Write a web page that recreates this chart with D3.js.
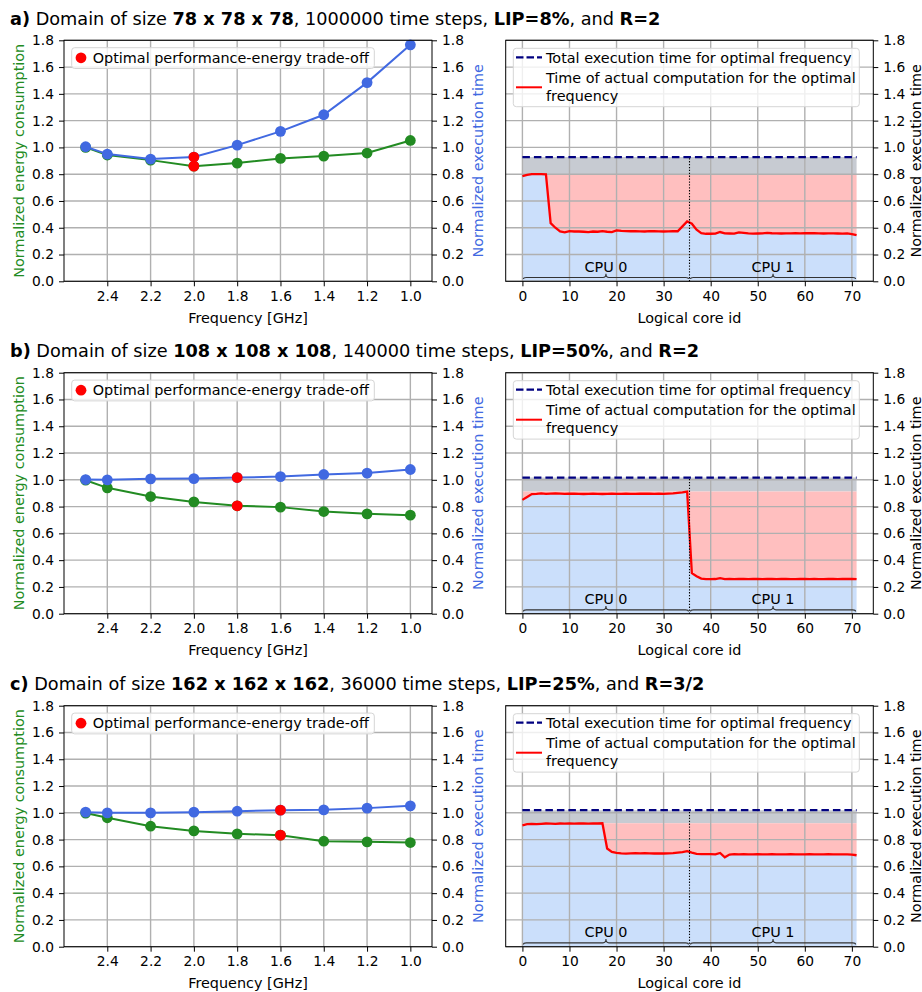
<!DOCTYPE html>
<html>
<head>
<meta charset="utf-8">
<script src="https://cdn.jsdelivr.net/npm/d3@7"></script>
<style>
  body { margin: 0; background: #fff; }
  svg { font-family: "DejaVu Sans", sans-serif; }
</style>
</head>
<body>
<svg class="chart" width="922" height="992"></svg>
<script>
// ---------------- data ----------------
const freqs = [2.5, 2.4, 2.2, 2.0, 1.8, 1.6, 1.4, 1.2, 1.0]
const freqTicks = [2.4, 2.2, 2.0, 1.8, 1.6, 1.4, 1.2, 1.0]
const coreTicks = [0, 10, 20, 30, 40, 50, 60, 70]
const yTicks = [0, 0.2, 0.4, 0.6, 0.8, 1.0, 1.2, 1.4, 1.6, 1.8]
const cpuGroups = [["CPU 0", 0, 35.5], ["CPU 1", 35.5, 71]]

// a) 78^3
const energyA = [1.0, 0.943, 0.905, 0.86, 0.883, 0.918, 0.935, 0.958, 1.052]
const timeA   = [1.005, 0.95, 0.913, 0.928, 1.017, 1.12, 1.244, 1.484, 1.766]
const optA = 3
const computeA = [0.785, 0.795, 0.8, 0.8, 0.8, 0.798, 0.434, 0.4, 0.372, 0.366,
  0.375, 0.372, 0.372, 0.37, 0.368, 0.372, 0.37, 0.375, 0.37, 0.368,
  0.38, 0.376, 0.375, 0.374, 0.375, 0.373, 0.372, 0.374, 0.375, 0.373,
  0.372, 0.373, 0.374, 0.374, 0.41, 0.447, 0.43, 0.385, 0.359, 0.355,
  0.355, 0.356, 0.368, 0.358, 0.357, 0.356, 0.366, 0.362, 0.358, 0.356,
  0.357, 0.358, 0.361, 0.359, 0.358, 0.357, 0.358, 0.358, 0.359, 0.358,
  0.359, 0.36, 0.359, 0.358, 0.357, 0.358, 0.358, 0.357, 0.356, 0.358,
  0.352, 0.345]

// b) 108^3
const energyB = [0.997, 0.94, 0.875, 0.835, 0.806, 0.796, 0.763, 0.746, 0.736]
const timeB   = [1.002, 1.0, 1.007, 1.009, 1.017, 1.024, 1.04, 1.05, 1.077]
const optB = 4
const computeB = [0.85, 0.872, 0.893, 0.895, 0.898, 0.895, 0.897, 0.899, 0.897, 0.895,
  0.896, 0.897, 0.895, 0.894, 0.895, 0.896, 0.895, 0.894, 0.895, 0.896,
  0.895, 0.895, 0.896, 0.895, 0.895, 0.896, 0.897, 0.896, 0.895, 0.896,
  0.895, 0.897, 0.899, 0.903, 0.906, 0.912, 0.303, 0.28, 0.262, 0.258,
  0.258, 0.259, 0.266, 0.258, 0.259, 0.258, 0.259, 0.259, 0.258, 0.259,
  0.259, 0.258, 0.259, 0.259, 0.258, 0.259, 0.259, 0.258, 0.258, 0.259,
  0.259, 0.258, 0.259, 0.258, 0.258, 0.259, 0.259, 0.258, 0.259, 0.259,
  0.26, 0.258]

// c) 162^3
const energyC = [0.998, 0.963, 0.9, 0.865, 0.843, 0.833, 0.788, 0.783, 0.778]
const timeC   = [1.005, 1.0, 1.0, 1.005, 1.012, 1.02, 1.022, 1.035, 1.052]
const optC = 5
const computeC = [0.907, 0.915, 0.917, 0.915, 0.918, 0.92, 0.919, 0.918, 0.92, 0.919,
  0.92, 0.919, 0.92, 0.92, 0.919, 0.92, 0.92, 0.922, 0.733, 0.708,
  0.7, 0.697, 0.695, 0.697, 0.698, 0.697, 0.698, 0.697, 0.696, 0.696,
  0.696, 0.697, 0.699, 0.703, 0.707, 0.713, 0.703, 0.694, 0.692, 0.691,
  0.691, 0.69, 0.7, 0.668, 0.688, 0.692, 0.69, 0.691, 0.69, 0.69,
  0.691, 0.69, 0.69, 0.691, 0.69, 0.69, 0.69, 0.691, 0.69, 0.69,
  0.69, 0.691, 0.69, 0.69, 0.69, 0.691, 0.69, 0.69, 0.69, 0.689,
  0.688, 0.683]

const titleA = [["a)", true], [" Domain of size ", false], ["78 x 78 x 78", true],
  [", 1000000 time steps, ", false], ["LIP=8%", true], [", and ", false], ["R=2", true]]
const titleB = [["b)", true], [" Domain of size ", false], ["108 x 108 x 108", true],
  [", 140000 time steps, ", false], ["LIP=50%", true], [", and ", false], ["R=2", true]]
const titleC = [["c)", true], [" Domain of size ", false], ["162 x 162 x 162", true],
  [", 36000 time steps, ", false], ["LIP=25%", true], [", and ", false], ["R=3/2", true]]

// ---------------- layout ----------------
const svg = d3.select('svg.chart')
const rowTops = [40.3, 372.7, 705.7]
const ph = 241
const left = { x0: 64, x1: 432 }
const right = { x0: 505.7, x1: 873.3 }
const fs = 14.4      // labels, legends
const tfs = 13.8     // tick labels

const green = '#228b22'
const blue = '#4169e1'
const gridColor = '#b0b0b0'

function styleAxis(g) {
  g.select('.domain').remove()
  g.selectAll('text').attr('font-size', tfs).attr('font-family', '"DejaVu Sans", sans-serif').attr('fill', '#000')
  g.selectAll('line').attr('stroke', '#000').attr('stroke-width', 1)
}

function drawRow(top, title, energy, time, opt, compute) {
  const bottom = top + ph
  const y = d3.scaleLinear().domain([0, 1.8]).range([bottom, top])

  // title
  const t = svg.append('text').attr('x', 10).attr('y', top - 15.3).attr('font-size', 17.7)
  title.forEach(p => t.append('tspan').attr('font-weight', p[1] ? 'bold' : 'normal').text(p[0]))

  //-------- left: energy / time vs frequency --------
  const xF = d3.scaleLinear().domain([2.6, 0.9]).range([left.x0, left.x1])
  const gl = svg.append('g')

  gl.selectAll('line.vg').data(freqTicks).join('line')
    .attr('x1', d => xF(d)).attr('x2', d => xF(d)).attr('y1', top).attr('y2', bottom)
    .attr('stroke', gridColor).attr('stroke-width', 1.4)
  gl.selectAll('line.hg').data(yTicks).join('line')
    .attr('x1', left.x0).attr('x2', left.x1).attr('y1', d => y(d)).attr('y2', d => y(d))
    .attr('stroke', gridColor).attr('stroke-width', 1.4)

  const series = [[energy, green], [time, blue]]
  series.forEach(([vals, col]) => {
    const pts = freqs.map((f, i) => [f, vals[i]])
    gl.append('path').datum(pts)
      .attr('d', d3.line().x(d => xF(d[0])).y(d => y(d[1])))
      .attr('fill', 'none').attr('stroke', col).attr('stroke-width', 2)
    gl.selectAll(null).data(pts).join('circle')
      .attr('cx', d => xF(d[0])).attr('cy', d => y(d[1])).attr('r', 5.4)
      .attr('fill', col)
  })
  gl.selectAll(null).data([energy[opt], time[opt]]).join('circle')
    .attr('cx', xF(freqs[opt])).attr('cy', d => y(d)).attr('r', 5.4).attr('fill', '#ff0000')

  gl.append('rect').attr('x', left.x0).attr('y', top).attr('width', left.x1 - left.x0).attr('height', ph)
    .attr('fill', 'none').attr('stroke', '#000').attr('stroke-width', 1)

  gl.append('g').attr('transform', `translate(0,${bottom})`)
    .call(d3.axisBottom(xF).tickValues(freqTicks).tickFormat(d3.format('.1f')).tickSize(5).tickPadding(5))
    .call(styleAxis)
  gl.append('g').attr('transform', `translate(${left.x0},0)`)
    .call(d3.axisLeft(y).tickValues(yTicks).tickFormat(d3.format('.1f')).tickSize(5).tickPadding(5))
    .call(styleAxis)
  gl.append('g').attr('transform', `translate(${left.x1},0)`)
    .call(d3.axisRight(y).tickValues(yTicks).tickFormat(d3.format('.1f')).tickSize(5).tickPadding(5))
    .call(styleAxis)

  gl.append('text').attr('x', (left.x0 + left.x1) / 2).attr('y', bottom + 41.5).attr('text-anchor', 'middle')
    .attr('font-size', fs).text('Frequency [GHz]')
  gl.append('text').attr('transform', `translate(19,${(top + bottom) / 2}) rotate(-90)`)
    .attr('dy', '0.35em').attr('text-anchor', 'middle').attr('font-size', fs).attr('fill', green)
    .text('Normalized energy consumption')
  gl.append('text').attr('transform', `translate(478,${(top + bottom) / 2}) rotate(-90)`)
    .attr('dy', '0.35em').attr('text-anchor', 'middle').attr('font-size', fs).attr('fill', blue)
    .text('Normalized execution time')

  // legend
  gl.append('rect').attr('x', 71.7).attr('y', top + 7.4).attr('width', 302.6).attr('height', 20.8).attr('rx', 3)
    .attr('fill', '#fff').attr('fill-opacity', 0.8).attr('stroke', '#d5d5d5')
  gl.append('circle').attr('cx', 81).attr('cy', top + 17.5).attr('r', 5.4).attr('fill', '#ff0000')
  gl.append('text').attr('x', 92.7).attr('y', top + 22.6).attr('font-size', fs).text('Optimal performance-energy trade-off')

  //-------- right: per-core times --------
  const xC = d3.scaleLinear().domain([-3.55, 74.55]).range([right.x0, right.x1])
  const gr = svg.append('g')
  const total = time[opt]
  const peak = d3.max(compute)
  const pts = compute.map((v, i) => [i, v])

  gr.append('path').datum(pts)
    .attr('d', d3.area().x(d => xC(d[0])).y0(y(peak)).y1(y(total)))
    .attr('fill', '#c7cbd2')
  gr.append('path').datum(pts)
    .attr('d', d3.area().x(d => xC(d[0])).y0(d => y(d[1])).y1(y(peak)))
    .attr('fill', '#ffbfbf')
  gr.append('path').datum(pts)
    .attr('d', d3.area().x(d => xC(d[0])).y0(y(0)).y1(d => y(d[1])))
    .attr('fill', '#cbdffb')

  gr.selectAll('line.vg').data(coreTicks).join('line')
    .attr('x1', d => xC(d)).attr('x2', d => xC(d)).attr('y1', top).attr('y2', bottom)
    .attr('stroke', gridColor).attr('stroke-width', 1.4)
  gr.selectAll('line.hg').data(yTicks).join('line')
    .attr('x1', right.x0).attr('x2', right.x1).attr('y1', d => y(d)).attr('y2', d => y(d))
    .attr('stroke', gridColor).attr('stroke-width', 1.4)

  gr.append('path').datum(pts)
    .attr('d', d3.line().x(d => xC(d[0])).y(d => y(d[1])))
    .attr('fill', 'none').attr('stroke', '#ff0000').attr('stroke-width', 2.3)
  gr.append('line').attr('x1', xC(0)).attr('x2', xC(71)).attr('y1', y(total)).attr('y2', y(total))
    .attr('stroke', '#000080').attr('stroke-width', 2.2).attr('stroke-dasharray', '7.5,4')
  gr.append('line').attr('x1', xC(35.5)).attr('x2', xC(35.5)).attr('y1', y(0)).attr('y2', y(total))
    .attr('stroke', '#000').attr('stroke-width', 1.1).attr('stroke-dasharray', '1.3,1.6')

  // CPU braces
  cpuGroups.forEach(([name, a, b]) => {
    const x0 = xC(a) + 1, x1 = xC(b) - 1, xm = (xC(a) + xC(b)) / 2
    const yEnd = bottom - 2.2, yLine = bottom - 3.8, yTip = bottom - 7.6
    const p = `M${x0},${yEnd} Q${x0},${yLine} ${x0 + 3},${yLine} L${xm - 3},${yLine} Q${xm},${yLine} ${xm},${yTip}` +
      ` Q${xm},${yLine} ${xm + 3},${yLine} L${x1 - 3},${yLine} Q${x1},${yLine} ${x1},${yEnd}`
    gr.append('path').attr('d', p).attr('fill', 'none').attr('stroke', '#333').attr('stroke-width', 1.1)
    gr.append('text').attr('x', xm).attr('y', bottom - 9.5).attr('text-anchor', 'middle')
      .attr('font-size', fs).text(name)
  })

  gr.append('rect').attr('x', right.x0).attr('y', top).attr('width', right.x1 - right.x0).attr('height', ph)
    .attr('fill', 'none').attr('stroke', '#000').attr('stroke-width', 1)

  gr.append('g').attr('transform', `translate(0,${bottom})`)
    .call(d3.axisBottom(xC).tickValues(coreTicks).tickFormat(d3.format('d')).tickSize(5).tickPadding(5))
    .call(styleAxis)
  gr.append('g').attr('transform', `translate(${right.x1},0)`)
    .call(d3.axisRight(y).tickValues(yTicks).tickFormat(d3.format('.1f')).tickSize(5).tickPadding(5))
    .call(styleAxis)

  gr.append('text').attr('x', (right.x0 + right.x1) / 2).attr('y', bottom + 41.5).attr('text-anchor', 'middle')
    .attr('font-size', fs).text('Logical core id')
  gr.append('text').attr('transform', `translate(920.5,${(top + bottom) / 2}) rotate(-90)`)
    .attr('text-anchor', 'middle').attr('font-size', fs)
    .text('Normalized execution time')

  // legend
  gr.append('rect').attr('x', 513.3).attr('y', top + 8).attr('width', 346).attr('height', 58.4).attr('rx', 3)
    .attr('fill', '#fff').attr('fill-opacity', 0.8).attr('stroke', '#d5d5d5')
  gr.append('line').attr('x1', 516).attr('x2', 542).attr('y1', top + 17).attr('y2', top + 17)
    .attr('stroke', '#000080').attr('stroke-width', 2.2).attr('stroke-dasharray', '7.5,3')
  gr.append('text').attr('x', 546).attr('y', top + 22.2).attr('font-size', fs)
    .text('Total execution time for optimal frequency')
  gr.append('line').attr('x1', 516).attr('x2', 542).attr('y1', top + 47).attr('y2', top + 47)
    .attr('stroke', '#ff0000').attr('stroke-width', 2)
  gr.append('text').attr('x', 546).attr('y', top + 42.4).attr('font-size', fs)
    .text('Time of actual computation for the optimal')
  gr.append('text').attr('x', 546).attr('y', top + 60.4).attr('font-size', fs)
    .text('frequency')
}

drawRow(rowTops[0], titleA, energyA, timeA, optA, computeA)
drawRow(rowTops[1], titleB, energyB, timeB, optB, computeB)
drawRow(rowTops[2], titleC, energyC, timeC, optC, computeC)
</script>
</body>
</html>
